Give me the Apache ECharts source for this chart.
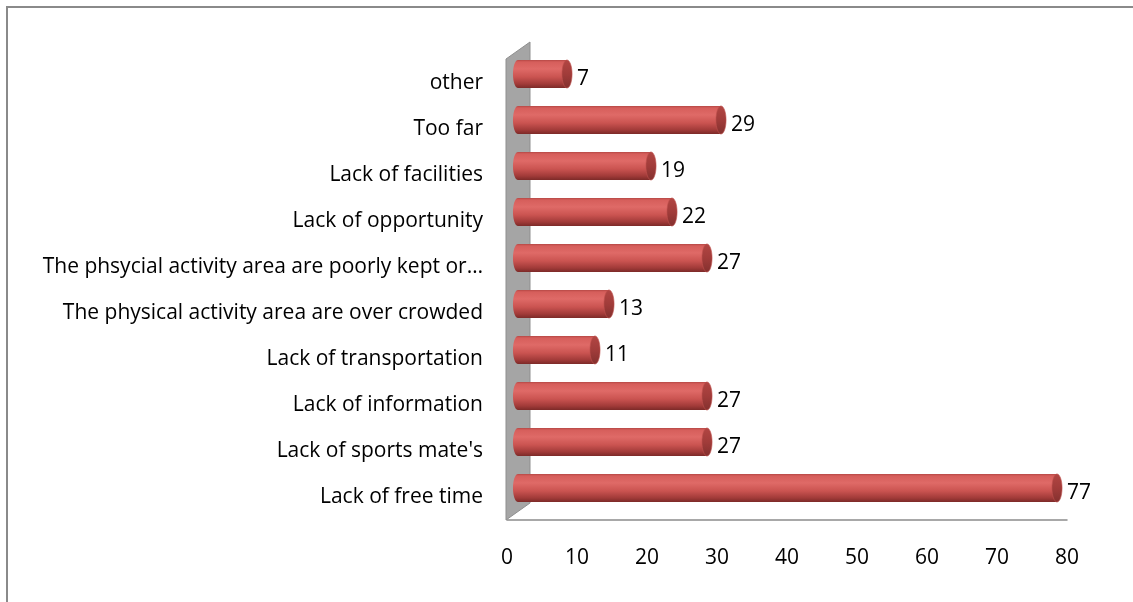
<!DOCTYPE html>
<html>
<head>
<meta charset="utf-8">
<title>Barriers to physical activity</title>
<script src="https://cdn.jsdelivr.net/npm/echarts@6/dist/echarts.min.js"></script>
<style>
  html, body { margin: 0; padding: 0; background: #ffffff; }
  #chart { width: 1133px; height: 602px; }
</style>
</head>
<body>
<div id="chart"></div>
<script>
// Reasons, listed from the bottom row upwards
const categories = [
  'Lack of free time',
  "Lack of sports mate's",
  'Lack of information',
  'Lack of transportation',
  'The physical activity area are over crowded',
  'The phsycial activity area are poorly kept or\u2026',
  'Lack of opportunity',
  'Lack of facilities',
  'Too far',
  'other'
];
const counts = [77, 27, 27, 11, 13, 27, 22, 19, 29, 7];
const xTicks = [0, 10, 20, 30, 40, 50, 60, 70, 80];

const FONT = '"Open Sans", "Noto Sans", sans-serif';
const FONT_SIZE = 21;
// pseudo-3D depth: back wall offset and cylinder offset (half depth)
const WALL_DX = 24, WALL_DY = -17;
const BAR_DX = 11, BAR_DY = -9;

const chart = echarts.init(document.getElementById('chart'), null, { renderer: 'canvas' });

function bodyGradient() {
  return new echarts.graphic.LinearGradient(0, 0, 0, 1, [
    { offset: 0, color: '#b54845' },
    { offset: 0.07, color: '#d65e5b' },
    { offset: 0.32, color: '#df6a67' },
    { offset: 0.6, color: '#cb5451' },
    { offset: 0.85, color: '#a23b39' },
    { offset: 1, color: '#7c2a28' }
  ]);
}
function capGradient() {
  return new echarts.graphic.LinearGradient(0, 0, 0, 1, [
    { offset: 0, color: '#b24643' },
    { offset: 0.5, color: '#a13c3a' },
    { offset: 1, color: '#83302e' }
  ]);
}

// Gray back wall standing on the value-axis origin
function renderWall(params, api) {
  const cs = params.coordSys;
  const x = cs.x - 1, yTop = cs.y - 1, yBot = cs.y + cs.height;
  return {
    type: 'polygon',
    shape: { points: [
      [x, yBot], [x + WALL_DX, yBot + WALL_DY],
      [x + WALL_DX, yTop + WALL_DY], [x, yTop]
    ] },
    style: { fill: '#a5a5a5', stroke: '#8f8f8f', lineWidth: 1 },
    z2: 0
  };
}

// Horizontal cylinder for one category
function renderCylinder(params, api) {
  const v = api.value(0);
  const c = api.value(1);
  const p0 = api.coord([0, c]);
  const p1 = api.coord([v, c]);
  const band = api.size([0, 1])[1];
  const h = band * 0.61;
  const rx = h * 0.18;
  const cy = p0[1] + BAR_DY;
  const x0 = p0[0] + BAR_DX;
  const x1 = p1[0] + BAR_DX;
  return {
    type: 'group',
    children: [
      { type: 'ellipse', shape: { cx: x0, cy: cy, rx: rx, ry: h / 2 },
        style: { fill: bodyGradient() } },
      { type: 'rect', shape: { x: x0, y: cy - h / 2, width: x1 - x0, height: h },
        style: { fill: bodyGradient() } },
      { type: 'ellipse', shape: { cx: x1, cy: cy, rx: rx, ry: h / 2 },
        style: { fill: capGradient(), stroke: '#c0504d', lineWidth: 0.6 } },
      { type: 'text', x: x1 + rx + 5, y: cy + 5,
        style: { text: String(v), fill: '#000000', font: FONT_SIZE + 'px ' + FONT,
                 align: 'left', verticalAlign: 'middle' } }
    ]
  };
}

chart.setOption({
  backgroundColor: '#ffffff',
  animation: false,
  graphic: [
    { type: 'rect', shape: { x: 7, y: 7, width: 1300, height: 800 },
      style: { fill: 'none', stroke: '#8a8a8a', lineWidth: 2 }, silent: true }
  ],
  grid: { left: 507, right: 66, top: 60, bottom: 82, containLabel: false },
  xAxis: {
    type: 'value', min: xTicks[0], max: xTicks[xTicks.length - 1], interval: 10,
    axisLine: { show: true, lineStyle: { color: '#8c8c8c', width: 1.5 } },
    axisTick: { show: false },
    splitLine: { show: false },
    axisLabel: { color: '#000000', fontSize: FONT_SIZE, fontFamily: FONT, margin: 28 }
  },
  yAxis: {
    type: 'category', data: categories,
    axisLine: { show: false }, axisTick: { show: false }, splitLine: { show: false },
    axisLabel: { color: '#000000', fontSize: FONT_SIZE, fontFamily: FONT, margin: 24 }
  },
  series: [
    { type: 'custom', renderItem: renderWall, data: [[0, 0]], z: 1, silent: true },
    { type: 'custom', renderItem: renderCylinder,
      encode: { x: 0, y: 1 },
      data: counts.map((v, i) => [v, i]), z: 2 }
  ]
});
</script>
</body>
</html>
